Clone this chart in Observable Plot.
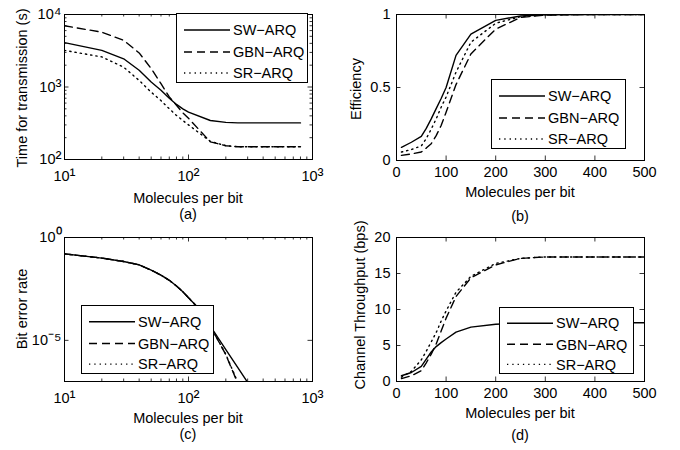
<!DOCTYPE html>
<html>
<head>
<meta charset="utf-8">
<script src="https://cdn.jsdelivr.net/npm/d3@7"></script>
<script src="https://cdn.jsdelivr.net/npm/@observablehq/plot@0.6"></script>
<style>
  body { margin: 0; background: #fff; }
  #fig { position: relative; width: 680px; height: 450px; overflow: hidden; background: #fff;
         font-family: "Liberation Sans", Arial, sans-serif; color: #000; }
  .panel { position: absolute; }
  .lbl { position: absolute; font-size: 14.5px; line-height: 1; white-space: nowrap;
         transform: translate(-50%, -50%); }
  .rot { transform: translate(-50%, -50%) rotate(-90deg); }
  .legend { position: absolute; overflow: visible; }
</style>
</head>
<body>
<div id="fig"></div>
<script>
// ---------- data ----------
const seriesNames = ["SW−ARQ", "GBN−ARQ", "SR−ARQ"];

// (a) Time for transmission (s) vs molecules per bit (log-log)
const molA = [10, 20, 30, 40, 50, 60, 70, 80, 90, 100, 150, 200, 250, 300, 400, 500, 600, 700, 800];
const timeSW  = [4100, 3200, 2450, 1700, 1170, 900, 700, 575, 500, 450, 345, 325, 320, 320, 320, 320, 320, 320, 320];
const timeGBN = [7000, 5700, 4400, 2950, 1800, 1110, 730, 560, 440, 370, 175, 155, 150, 150, 150, 150, 150, 150, 150];
const timeSR  = [3200, 2600, 1880, 1230, 850, 650, 500, 405, 345, 300, 178, 155, 150, 150, 150, 150, 150, 150, 150];

// (b) Efficiency vs molecules per bit
const molB = [10, 30, 50, 60, 70, 80, 90, 100, 120, 150, 200, 250, 300, 400, 500];
const effSW  = [0.09, 0.125, 0.165, 0.22, 0.285, 0.355, 0.425, 0.50, 0.72, 0.865, 0.96, 0.99, 0.998, 1, 1];
const effGBN = [0.035, 0.045, 0.058, 0.085, 0.115, 0.17, 0.24, 0.33, 0.52, 0.73, 0.90, 0.98, 0.996, 1, 1];
const effSR  = [0.058, 0.075, 0.10, 0.15, 0.215, 0.285, 0.365, 0.435, 0.605, 0.81, 0.94, 0.985, 0.998, 1, 1];

// (c) Bit error rate vs molecules per bit (log-log)
const molC = [10, 20, 30, 40, 50, 60, 70, 80, 90, 100, 120, 150, 200, 250, 300];
const berSW  = [0.16, 0.10, 0.068, 0.047, 0.026, 0.0147, 0.0083, 0.0044, 0.0023, 0.00118, 0.00037, 4.9e-5, 3.5e-6, 4.7e-7, 9e-8];
const berGBN = [0.16, 0.10, 0.068, 0.047, 0.026, 0.0147, 0.0083, 0.0044, 0.0023, 0.00118, 0.00037, 4.9e-5, 2.0e-6, 8e-8, 3e-9];
const berSR  = [0.16, 0.10, 0.068, 0.047, 0.026, 0.0147, 0.0083, 0.0044, 0.0023, 0.00118, 0.00037, 4.8e-5, 2.1e-6, 9e-8, 3e-9];

// (d) Channel throughput (bps) vs molecules per bit
const molD = [10, 30, 50, 60, 70, 80, 90, 100, 120, 150, 200, 250, 300, 400, 500];
const thrSW  = [0.8, 1.25, 2.1, 3.1, 4.1, 4.85, 5.4, 5.9, 6.85, 7.55, 7.95, 8.1, 8.15, 8.15, 8.15];
const thrGBN = [0.4, 0.8, 1.5, 2.6, 3.8, 5.2, 7.0, 8.8, 11.8, 14.4, 16.2, 17.1, 17.3, 17.3, 17.3];
const thrSR  = [0.6, 1.4, 3.0, 4.2, 5.5, 6.8, 8.4, 9.8, 12.4, 14.6, 16.4, 17.1, 17.3, 17.3, 17.3];

// tick values and labels
const logXTicks = [10, 100, 1000];
const logXLabels = ["10¹", "10²", "10³"];
const logXMinor = [20, 30, 40, 50, 60, 70, 80, 90, 200, 300, 400, 500, 600, 700, 800, 900];
const timeTicks = [100, 1000, 10000];
const timeLabels = ["10²", "10³", "10⁴"];
const timeMinor = [200, 300, 400, 500, 600, 700, 800, 900, 2000, 3000, 4000, 5000, 6000, 7000, 8000, 9000];
const berTicks = [1e-5, 1];
const berLabels = ["10⁻⁵", "10⁰"];
const linXTicks = [0, 100, 200, 300, 400, 500];
const effTicks = [0, 0.5, 1];
const effLabels = ["0", "0.5", "1"];
const thrTicks = [0, 5, 10, 15, 20];

// ---------- styles ----------
const dashes = [null, "8,5", "1.3,4"];
const FONT = "Liberation Sans, Arial, sans-serif";
const SUP = /^(10)([⁻⁰¹²³⁴⁵⁶⁷⁸⁹]+)$/;

const fig = document.getElementById("fig");

function label(text, cx, cy, rot) {
  const d = document.createElement("div");
  d.className = "lbl" + (rot ? " rot" : "");
  d.style.left = cx + "px";
  d.style.top = cy + "px";
  d.textContent = text;
  fig.appendChild(d);
}

function legend(left, top, w, h) {
  const svg = d3.select(fig).append("svg").attr("class", "legend")
    .style("left", left + "px").style("top", top + "px")
    .attr("width", w + 1).attr("height", h + 1);
  svg.append("rect").attr("x", 0.5).attr("y", 0.5).attr("width", w).attr("height", h)
    .attr("fill", "white").attr("stroke", "black").attr("stroke-width", 1);
  const rows = [17, 39, 60].map(v => v * h / 69);
  seriesNames.forEach((name, i) => {
    const ln = svg.append("line").attr("x1", 8).attr("x2", 54).attr("y1", rows[i]).attr("y2", rows[i])
      .attr("stroke", "black").attr("stroke-width", 1.4);
    if (dashes[i]) ln.attr("stroke-dasharray", dashes[i]);
    svg.append("text").attr("x", 57).attr("y", rows[i]).attr("dy", "0.36em")
      .attr("font-family", FONT).attr("font-size", 14.5).attr("fill", "black").text(name);
  });
}

function enlargeExponents(svg) {
  d3.select(svg).selectAll("text").each(function () {
    const m = SUP.exec(this.textContent);
    if (!m) return;
    const t = d3.select(this);
    t.text(m[1]);
    t.append("tspan").attr("font-size", "1.25em").text(m[2]);
  });
}

function panel(cfg) {
  const W = 340, H = 225;
  const innerW = W - cfg.ml - cfg.mr, innerH = H - cfg.mt - cfg.mb;
  const marks = [];
  const maj = 4.5, min = 2.5;
  const ticksX = (arr, len) => [
    Plot.ruleX(arr, {x: d => d, insetTop: innerH - len, stroke: "black", strokeWidth: 0.8}),
    Plot.ruleX(arr, {x: d => d, insetBottom: innerH - len, stroke: "black", strokeWidth: 0.8})
  ];
  const ticksY = (arr, len) => [
    Plot.ruleY(arr, {y: d => d, insetRight: innerW - len, stroke: "black", strokeWidth: 0.8}),
    Plot.ruleY(arr, {y: d => d, insetLeft: innerW - len, stroke: "black", strokeWidth: 0.8})
  ];
  marks.push(...ticksX(cfg.xTicks, maj));
  if (cfg.xMinor) marks.push(...ticksX(cfg.xMinor, min));
  marks.push(...ticksY(cfg.yTicks, maj));
  if (cfg.yMinor) marks.push(...ticksY(cfg.yMinor, min));
  cfg.series.forEach((vals, s) => {
    const rows = cfg.x.map((xv, i) => ({mol: xv, v: vals[i]}));
    const opts = {x: "mol", y: "v", stroke: "black", strokeWidth: 1.4, clip: true};
    if (dashes[s]) opts.strokeDasharray = dashes[s];
    marks.push(Plot.line(rows, opts));
  });
  marks.push(Plot.frame({stroke: "black", strokeWidth: 1}));
  marks.push(Plot.axisX(cfg.xTicks, {tickSize: 0, tickPadding: cfg.xPad, label: null,
    tickFormat: cfg.xLabels ? (d => cfg.xLabels[cfg.xTicks.indexOf(d)]) : (d => String(d))}));
  marks.push(Plot.axisY(cfg.yTicks, {tickSize: 0, tickPadding: cfg.yPad, label: null,
    tickFormat: cfg.yLabels ? (d => cfg.yLabels[cfg.yTicks.indexOf(d)]) : (d => String(d))}));
  const svg = Plot.plot({
    width: W, height: H,
    marginLeft: cfg.ml, marginRight: cfg.mr, marginTop: cfg.mt, marginBottom: cfg.mb,
    x: {type: cfg.xType, domain: cfg.xDomain},
    y: {type: cfg.yType, domain: cfg.yDomain},
    style: {fontSize: "14.5px", fontFamily: FONT, background: "transparent", color: "black", overflow: "visible"},
    marks
  });
  enlargeExponents(svg);
  const wrap = document.createElement("div");
  wrap.className = "panel";
  wrap.style.left = cfg.left + "px";
  wrap.style.top = cfg.top + "px";
  wrap.appendChild(svg);
  fig.appendChild(wrap);
}

// (a)
panel({left: 0, top: 0, ml: 64, mr: 28, mt: 14, mb: 66,
  x: molA, series: [timeSW, timeGBN, timeSR],
  xType: "log", xDomain: [10, 1000], yType: "log", yDomain: [100, 10000],
  xTicks: logXTicks, xLabels: logXLabels, xMinor: logXMinor, xPad: 11,
  yTicks: timeTicks, yLabels: timeLabels, yMinor: timeMinor, yPad: 3});
// (b)
panel({left: 340, top: 0, ml: 56, mr: 36, mt: 14, mb: 65,
  x: molB, series: [effSW, effGBN, effSR],
  xType: "linear", xDomain: [0, 500], yType: "linear", yDomain: [0, 1],
  xTicks: linXTicks, xPad: 6,
  yTicks: effTicks, yLabels: effLabels, yPad: 6});
// (c)
panel({left: 0, top: 225, ml: 64, mr: 28, mt: 12, mb: 69,
  x: molC, series: [berSW, berGBN, berSR],
  xType: "log", xDomain: [10, 1000], yType: "log", yDomain: [1e-7, 1],
  xTicks: logXTicks, xLabels: logXLabels, xMinor: logXMinor, xPad: 11,
  yTicks: berTicks, yLabels: berLabels, yPad: 3});
// (d)
panel({left: 340, top: 225, ml: 56, mr: 36, mt: 12, mb: 69,
  x: molD, series: [thrSW, thrGBN, thrSR],
  xType: "linear", xDomain: [0, 500], yType: "linear", yDomain: [0, 20],
  xTicks: linXTicks, xPad: 6,
  yTicks: thrTicks, yPad: 6});

// axis titles and captions
label("Time for transmission (s)", 22, 88, true);
label("Molecules per bit", 188, 198);
label("(a)", 188, 214);
label("Efficiency", 356, 89, true);
label("Molecules per bit", 520, 192);
label("(b)", 520, 216);
label("Bit error rate", 22, 309, true);
label("Molecules per bit", 188, 418);
label("(c)", 188, 434);
label("Channel Throughput (bps)", 360, 305, true);
label("Molecules per bit", 520, 413);
label("(d)", 520, 435);

// legends
legend(176, 13, 131, 69);
legend(491, 79, 134, 69);
legend(81, 305, 132, 68);
legend(499, 307, 134, 66);
</script>
</body>
</html>
